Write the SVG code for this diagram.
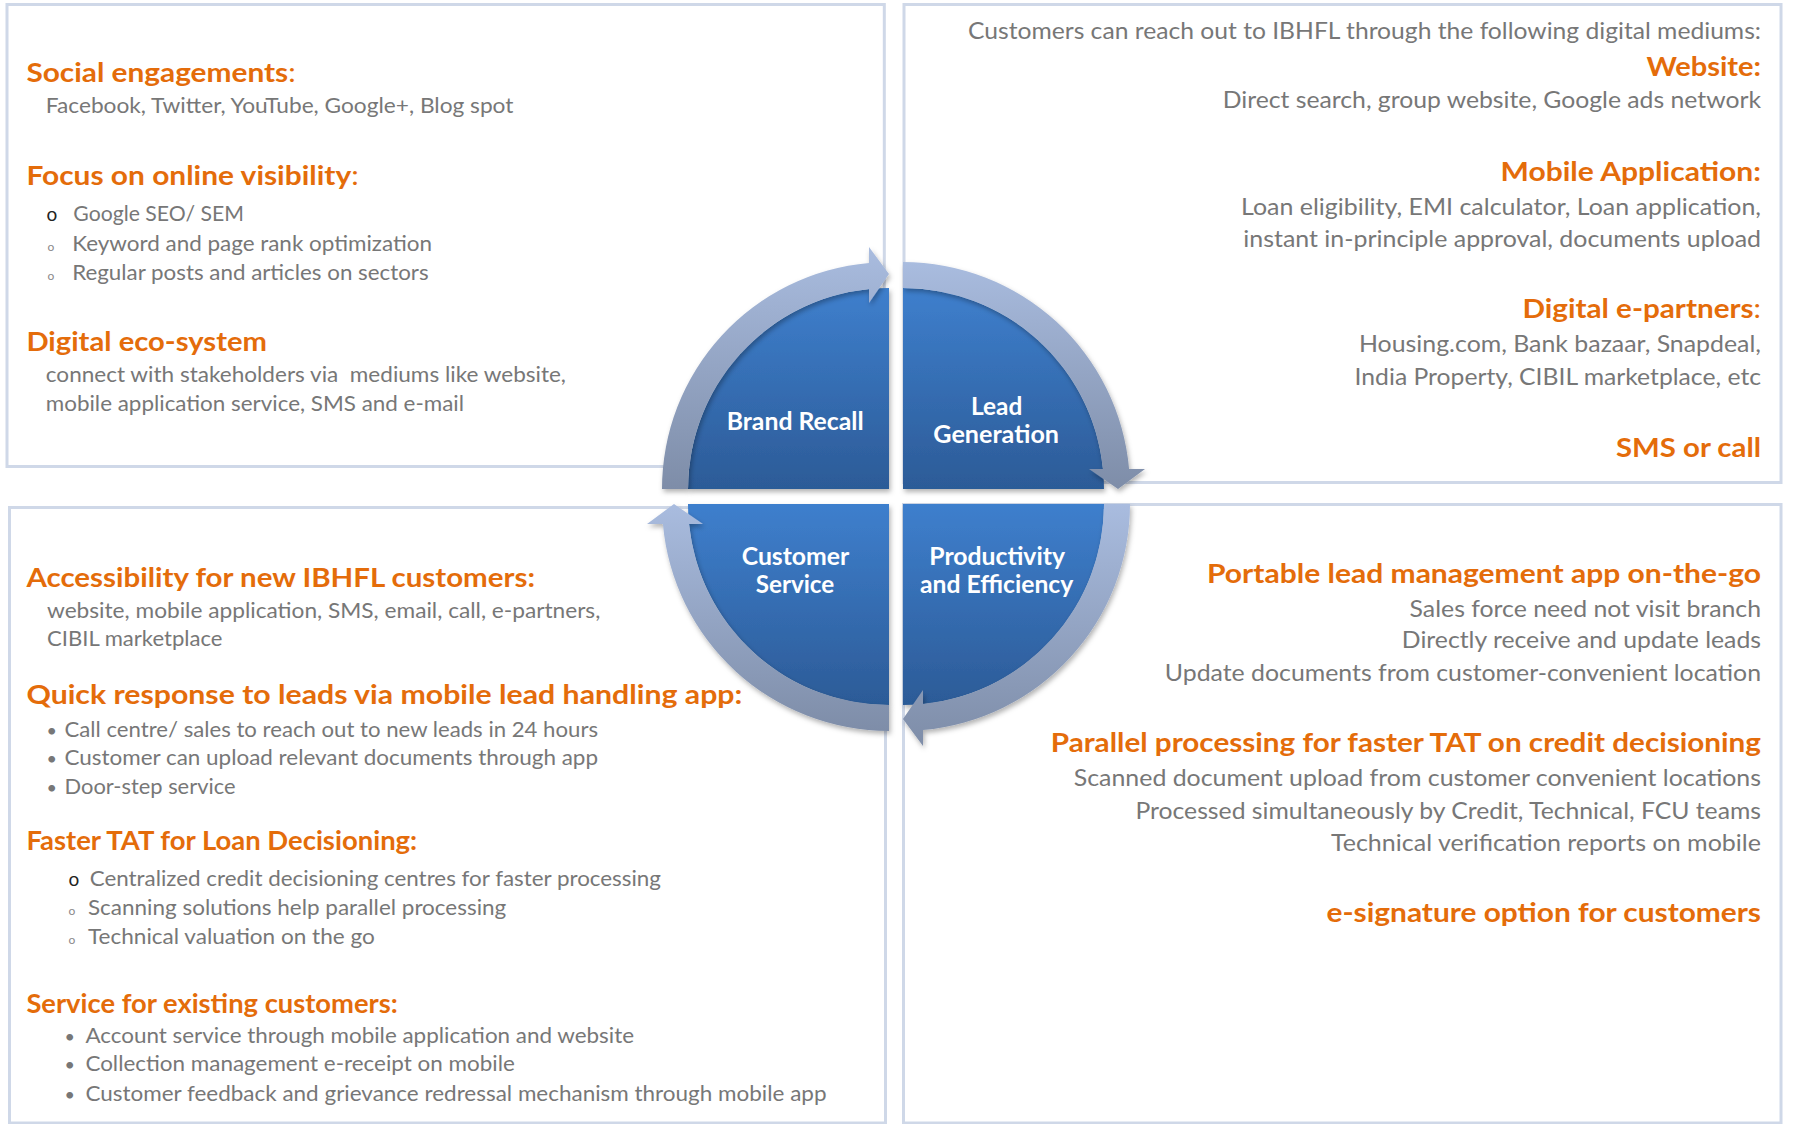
<svg xmlns="http://www.w3.org/2000/svg" width="1797" height="1124" viewBox="0 0 1797 1124">
<defs>
  <linearGradient id="gq" x1="0" y1="0" x2="0" y2="1">
    <stop offset="0" stop-color="#3e7fcd"/>
    <stop offset="1" stop-color="#2c5b97"/>
  </linearGradient>
  <linearGradient id="ga" x1="0" y1="0" x2="0" y2="1">
    <stop offset="0" stop-color="#a9bcdf"/>
    <stop offset="1" stop-color="#7e8da8"/>
  </linearGradient>
  <filter id="sh" x="-10%" y="-10%" width="125%" height="125%">
    <feDropShadow dx="1.5" dy="3" stdDeviation="2.5" flood-color="#000" flood-opacity="0.3"/>
  </filter>
</defs>
<style>
  .box{fill:#ffffff;stroke:#cfd8e8;stroke-width:3}
  .sec{fill:url(#gq);filter:url(#sh)}
  .arr{fill:url(#ga);filter:url(#sh)}
  text{font-family:Lato,"Liberation Sans",sans-serif}
  .h{font-weight:bold;fill:#e46c0a;font-size:26.5px}
  .hr{font-size:27px}
  .c{font-weight:normal}
  .t{fill:#777777;font-size:21px}
  .tr{font-size:22.5px}
  .lbl{font-weight:bold;fill:#ffffff;font-size:24px}
  .b1{fill:#222222;font-size:19px}
  .b2{fill:#8a8a8a;font-size:12px}
  .bd{fill:#777777;font-size:18px}
</style>
<rect width="1797" height="1124" fill="#ffffff"/>

<g id="panels">
  <rect id="panel-top-left" class="box" x="7" y="4.5" width="877.3" height="462"/>
  <rect id="panel-top-right" class="box" x="904" y="4.5" width="877" height="478"/>
  <rect id="panel-bottom-left" class="box" x="9.5" y="507.5" width="876" height="615.5"/>
  <rect id="panel-bottom-right" class="box" x="903.5" y="504.5" width="877.5" height="618.5"/>
</g>

<g id="text-top-left">
  <text class="h" x="26.4" y="81.7" textLength="269.3" lengthAdjust="spacingAndGlyphs">Social engagements<tspan class="c">:</tspan></text>
  <text class="t" x="45.8" y="113" textLength="467.6" lengthAdjust="spacingAndGlyphs">Facebook, Twitter, YouTube, Google+, Blog spot</text>
  <text class="h" x="26.4" y="184.7" textLength="332.3" lengthAdjust="spacingAndGlyphs">Focus on online visibility<tspan class="c">:</tspan></text>
  <text class="b1" x="46.5" y="221">o</text>
  <text class="t" x="73.3" y="221" textLength="170.7" lengthAdjust="spacingAndGlyphs">Google SEO/ SEM</text>
  <text class="b2" x="47.5" y="251">o</text>
  <text class="t" x="72.2" y="251" textLength="359.8" lengthAdjust="spacingAndGlyphs">Keyword and page rank optimization</text>
  <text class="b2" x="47.5" y="280">o</text>
  <text class="t" x="72.2" y="280" textLength="356.4" lengthAdjust="spacingAndGlyphs">Regular posts and articles on sectors</text>
  <text class="h" x="26.4" y="350.5" textLength="240.6" lengthAdjust="spacingAndGlyphs">Digital eco-system</text>
  <text class="t" x="45.8" y="381.7" textLength="520.2" lengthAdjust="spacingAndGlyphs" xml:space="preserve">connect with stakeholders via  mediums like website,</text>
  <text class="t" x="45.8" y="411" textLength="418.2" lengthAdjust="spacingAndGlyphs">mobile application service, SMS and e-mail</text>
</g>

<g id="text-top-right">
  <text class="t tr" x="968" y="38.5" textLength="793" lengthAdjust="spacingAndGlyphs">Customers can reach out to IBHFL through the following digital mediums:</text>
  <text class="h hr" x="1646.5" y="75.7" textLength="114.5" lengthAdjust="spacingAndGlyphs">Website:</text>
  <text class="t tr" x="1222.7" y="108.2" textLength="538.3" lengthAdjust="spacingAndGlyphs">Direct search, group website, Google ads network</text>
  <text class="h hr" x="1500.5" y="181" textLength="260.5" lengthAdjust="spacingAndGlyphs">Mobile Application:</text>
  <text class="t tr" x="1241" y="214.7" textLength="520" lengthAdjust="spacingAndGlyphs">Loan eligibility, EMI calculator, Loan application,</text>
  <text class="t tr" x="1243.3" y="246.6" textLength="517.7" lengthAdjust="spacingAndGlyphs">instant in-principle approval, documents upload</text>
  <text class="h hr" x="1522.4" y="318.4" textLength="238.6" lengthAdjust="spacingAndGlyphs">Digital e-partners<tspan class="c">:</tspan></text>
  <text class="t tr" x="1359" y="351.8" textLength="402" lengthAdjust="spacingAndGlyphs">Housing.com, Bank bazaar, Snapdeal,</text>
  <text class="t tr" x="1354.6" y="385" textLength="406.4" lengthAdjust="spacingAndGlyphs">India Property, CIBIL marketplace, etc</text>
  <text class="h hr" x="1616" y="456.5" textLength="145" lengthAdjust="spacingAndGlyphs">SMS or call</text>
</g>

<g id="text-bottom-left">
  <text class="h" x="26.4" y="586.7" textLength="508.6" lengthAdjust="spacingAndGlyphs">Accessibility for new IBHFL customers:</text>
  <text class="t" x="47" y="617.5" textLength="553.3" lengthAdjust="spacingAndGlyphs">website, mobile application, SMS, email, call, e-partners,</text>
  <text class="t" x="47" y="646" textLength="175.5" lengthAdjust="spacingAndGlyphs">CIBIL marketplace</text>
  <text class="h" x="26.4" y="703.8" textLength="715.9" lengthAdjust="spacingAndGlyphs">Quick response to leads via mobile lead handling app:</text>
  <text class="bd" x="46.5" y="736.5">•</text>
  <text class="t" x="64.5" y="736.5" textLength="533.5" lengthAdjust="spacingAndGlyphs">Call centre/ sales to reach out to new leads in 24 hours</text>
  <text class="bd" x="46.5" y="765.3">•</text>
  <text class="t" x="64.5" y="765.3" textLength="533.5" lengthAdjust="spacingAndGlyphs">Customer can upload relevant documents through app</text>
  <text class="bd" x="46.5" y="794.2">•</text>
  <text class="t" x="64.5" y="794.2" textLength="171" lengthAdjust="spacingAndGlyphs">Door-step service</text>
  <text class="h" x="26.4" y="849.6" textLength="390.8" lengthAdjust="spacingAndGlyphs">Faster TAT for Loan Decisioning:</text>
  <text class="b1" x="68.5" y="885.8">o</text>
  <text class="t" x="89.7" y="885.8" textLength="571.3" lengthAdjust="spacingAndGlyphs">Centralized credit decisioning centres for faster processing</text>
  <text class="b2" x="68.5" y="915.3">o</text>
  <text class="t" x="88" y="915.3" textLength="418.3" lengthAdjust="spacingAndGlyphs">Scanning solutions help parallel processing</text>
  <text class="b2" x="68.5" y="944.1">o</text>
  <text class="t" x="88" y="944.1" textLength="286.8" lengthAdjust="spacingAndGlyphs">Technical valuation on the go</text>
  <text class="h" x="26.4" y="1012.5" textLength="371.3" lengthAdjust="spacingAndGlyphs">Service for existing customers:</text>
  <text class="bd" x="64.5" y="1042.7">•</text>
  <text class="t" x="85.4" y="1042.7" textLength="548.6" lengthAdjust="spacingAndGlyphs">Account service through mobile application and website</text>
  <text class="bd" x="64.5" y="1071.4">•</text>
  <text class="t" x="85.4" y="1071.4" textLength="429.4" lengthAdjust="spacingAndGlyphs">Collection management e-receipt on mobile</text>
  <text class="bd" x="64.5" y="1101">•</text>
  <text class="t" x="85.4" y="1101" textLength="741.1" lengthAdjust="spacingAndGlyphs">Customer feedback and grievance redressal mechanism through mobile app</text>
</g>

<g id="text-bottom-right">
  <text class="h hr" x="1207" y="582.7" textLength="554" lengthAdjust="spacingAndGlyphs">Portable lead management app on-the-go</text>
  <text class="t tr" x="1409.6" y="616.6" textLength="351.4" lengthAdjust="spacingAndGlyphs">Sales force need not visit branch</text>
  <text class="t tr" x="1401.8" y="648.3" textLength="359.2" lengthAdjust="spacingAndGlyphs">Directly receive and update leads</text>
  <text class="t tr" x="1164.8" y="681" textLength="596.2" lengthAdjust="spacingAndGlyphs">Update documents from customer-convenient location</text>
  <text class="h hr" x="1050.8" y="752" textLength="710.2" lengthAdjust="spacingAndGlyphs">Parallel processing for faster TAT on credit decisioning</text>
  <text class="t tr" x="1073.8" y="786" textLength="687.2" lengthAdjust="spacingAndGlyphs">Scanned document upload from customer convenient locations</text>
  <text class="t tr" x="1135.4" y="818.8" textLength="625.6" lengthAdjust="spacingAndGlyphs">Processed simultaneously by Credit, Technical, FCU teams</text>
  <text class="t tr" x="1331" y="850.8" textLength="430" lengthAdjust="spacingAndGlyphs">Technical verification reports on mobile</text>
  <text class="h hr" x="1326.5" y="921.5" textLength="434.5" lengthAdjust="spacingAndGlyphs">e-signature option for customers</text>
</g>

<g id="node-brand-recall">
  <path class="sec" d="M889,489 H688 A201,201 0 0 1 889,288 Z"/>
  <text class="lbl" x="726.7" y="430" textLength="137" lengthAdjust="spacingAndGlyphs">Brand Recall</text>
</g>
<g id="node-lead-generation">
  <path class="sec" d="M903,489 V288 A201,201 0 0 1 1104,489 Z"/>
  <text class="lbl" x="971" y="415" textLength="51.3" lengthAdjust="spacingAndGlyphs">Lead</text>
  <text class="lbl" x="933.3" y="443.3" textLength="125.7" lengthAdjust="spacingAndGlyphs">Generation</text>
</g>
<g id="node-customer-service">
  <path class="sec" d="M889,504 V705 A201,201 0 0 1 688,504 Z"/>
  <text class="lbl" x="741.7" y="565" textLength="107.6" lengthAdjust="spacingAndGlyphs">Customer</text>
  <text class="lbl" x="755.7" y="593.3" textLength="78.6" lengthAdjust="spacingAndGlyphs">Service</text>
</g>
<g id="node-productivity-efficiency">
  <path class="sec" d="M903,504 H1104 A201,201 0 0 1 903,705 Z"/>
  <text class="lbl" x="929.3" y="565" textLength="135.7" lengthAdjust="spacingAndGlyphs">Productivity</text>
  <text class="lbl" x="920" y="593.3" textLength="153.3" lengthAdjust="spacingAndGlyphs">and Efficiency</text>
</g>

<g id="connectors">
  <path id="arrow-br-lg" class="arr" d="M662,489 A227,227 0 0 1 869,262.9 L869,247 L889,274 L869,303 L869,289 A201,201 0 0 0 688,489 Z"/>
  <path id="arrow-lg-pe" class="arr" d="M903,262 A227,227 0 0 1 1129.1,469 L1145,469 L1118,489 L1089,469 L1103,469 A201,201 0 0 0 903,288 Z"/>
  <path id="arrow-pe-cs" class="arr" d="M1130,504 A227,227 0 0 1 923,730.1 L923,746 L903,719 L923,690 L923,704 A201,201 0 0 0 1104,504 Z"/>
  <path id="arrow-cs-br" class="arr" d="M889,731 A227,227 0 0 1 662.9,524 L647,524 L674,504 L703,524 L689,524 A201,201 0 0 0 889,705 Z"/>
</g>
</svg>
